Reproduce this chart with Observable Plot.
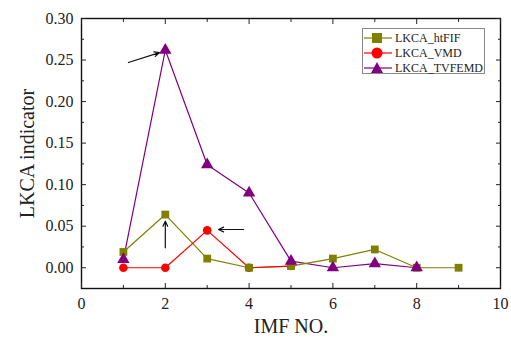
<!DOCTYPE html>
<html><head><meta charset="utf-8">
<script src="https://cdn.jsdelivr.net/npm/d3@7"></script>
<script src="https://cdn.jsdelivr.net/npm/@observablehq/plot@0.6"></script>
<style>
body{margin:0;background:#fff;font-family:"Liberation Serif","Times New Roman",serif;}
#wrap{position:relative;width:511px;height:339px;}
#wrap svg text{font-family:"Liberation Serif","Times New Roman",serif !important;}
#legend{position:absolute;left:362px;top:28px;width:121px;height:44px;border:1px solid #888;background:#fff;font-size:12px;color:#222;}
#legend div{position:absolute;left:0;height:16px;display:flex;align-items:center;}
#legend svg{margin-right:2px;}
</style></head><body>
<div id="wrap"></div>
<script>
const imfHtFIF = [1,2,3,4,5,6,7,8,9];
const valHtFIF = [0.019,0.064,0.011,0.000,0.002,0.011,0.022,0.000,0.000];
const imfVMD = [1,2,3,4,5];
const valVMD = [0.000,0.000,0.045,0.000,0.002];
const imfTVFEMD = [1,2,3,4,5,6,7,8];
const valTVFEMD = [0.010,0.262,0.124,0.090,0.008,0.000,0.005,0.000];
const seriesNames = ["LKCA_htFIF","LKCA_VMD","LKCA_TVFEMD"];
const seriesColors = ["#808000","#ff0000","#800080"];
const xMajor = [0,2,4,6,8,10];
const xMinor = [1,3,5,7,9];
const yMajor = [0,0.05,0.10,0.15,0.20,0.25,0.30];
const yMinor = [0.025,0.075,0.125,0.175,0.225,0.275];
// annotation arrows (data coordinates)
const arrX1 = [1.12, 2.0, 3.87];
const arrY1 = [0.247, 0.024, 0.046];
const arrX2 = [1.86, 2.0, 3.27];
const arrY2 = [0.259, 0.056, 0.046];

const mk = (xs, ys) => xs.map((x,i)=>({x, y: ys[i]}));
const dHt = mk(imfHtFIF, valHtFIF), dV = mk(imfVMD, valVMD), dT = mk(imfTVFEMD, valTVFEMD);
const arrows = arrX1.map((x,i)=>({x1:x,y1:arrY1[i],x2:arrX2[i],y2:arrY2[i]}));
const blank = () => "";

const chart = Plot.plot({
  width: 511, height: 339,
  marginLeft: 81, marginRight: 11, marginTop: 18, marginBottom: 51,
  style: {fontFamily: '"Liberation Serif","Times New Roman",serif', fontSize: "15px", color: "#222"},
  x: {domain: [0,10]},
  y: {domain: [-0.025, 0.30]},
  marks: [
    Plot.frame({stroke: "#111", strokeWidth: 1.4, strokeOpacity: 1}),
    Plot.axisX(xMajor, {anchor: "bottom", tickSize: 0, tickPadding: 9, tickFormat: "d", label: null, fontSize: 16}),
    Plot.axisX([], {anchor: "bottom", label: "IMF NO.", labelAnchor: "center", labelArrow: "none", labelOffset: 44, fontSize: 20}),
    Plot.axisX(xMajor, {anchor: "bottom", tickSize: -5, tickFormat: blank, label: null, strokeOpacity: 1}),
    Plot.axisX(xMinor, {anchor: "bottom", tickSize: -3, tickFormat: blank, label: null, strokeOpacity: 1}),
    Plot.axisX(xMajor, {anchor: "top", tickSize: -5, tickFormat: blank, label: null, strokeOpacity: 1}),
    Plot.axisX(xMinor, {anchor: "top", tickSize: -3, tickFormat: blank, label: null, strokeOpacity: 1}),
    Plot.axisY(yMajor, {anchor: "left", tickSize: 0, tickPadding: 8, tickFormat: ".2f", label: null, fontSize: 16}),
    Plot.axisY([], {anchor: "left", label: "LKCA indicator", labelAnchor: "center", labelArrow: "none", labelOffset: 62, fontSize: 20}),
    Plot.axisY(yMajor, {anchor: "left", tickSize: -5, tickFormat: blank, label: null, strokeOpacity: 1}),
    Plot.axisY(yMinor, {anchor: "left", tickSize: -3, tickFormat: blank, label: null, strokeOpacity: 1}),
    Plot.axisY(yMajor, {anchor: "right", tickSize: -5, tickFormat: blank, label: null, strokeOpacity: 1}),
    Plot.axisY(yMinor, {anchor: "right", tickSize: -3, tickFormat: blank, label: null, strokeOpacity: 1}),
    Plot.line(dT, {x: "x", y: "y", stroke: seriesColors[2], strokeWidth: 1.2}),
    Plot.line(dHt, {x: "x", y: "y", stroke: seriesColors[0], strokeWidth: 1.2}),
    Plot.line(dV, {x: "x", y: "y", stroke: seriesColors[1], strokeWidth: 1.2}),
    Plot.dot(dV, {x: "x", y: "y", r: 4.3, fill: seriesColors[1], symbol: "circle"}),
    Plot.dot(dHt, {x: "x", y: "y", r: 4.4, fill: seriesColors[0], symbol: "square"}),
    Plot.dot(dT, {x: "x", y: "y", r: 4.6, fill: seriesColors[2], symbol: "triangle"}),
    Plot.arrow(arrows, {x1: "x1", y1: "y1", x2: "x2", y2: "y2", stroke: "#111", strokeWidth: 1.2, headLength: 7, headAngle: 50})
  ]
});
const wrap = document.getElementById("wrap");
wrap.appendChild(chart);

// legend
const lg = document.createElement("div");
lg.id = "legend";
const shapes = [
  c => `<rect x="9" y="3" width="10" height="10" fill="${c}"/>`,
  c => `<circle cx="14" cy="8" r="5.5" fill="${c}"/>`,
  c => `<polygon points="14,2 20,13 8,13" fill="${c}"/>`
];
seriesNames.forEach((n,i)=>{
  const row = document.createElement("div");
  row.style.top = (i*15 + 1) + "px";
  row.innerHTML = `<svg width="30" height="16"><line x1="1" x2="29" y1="8" y2="8" stroke="${seriesColors[i]}" stroke-width="1.2"/>${shapes[i](seriesColors[i])}</svg><span>${n}</span>`;
  lg.appendChild(row);
});
wrap.appendChild(lg);
</script>
</body></html>
